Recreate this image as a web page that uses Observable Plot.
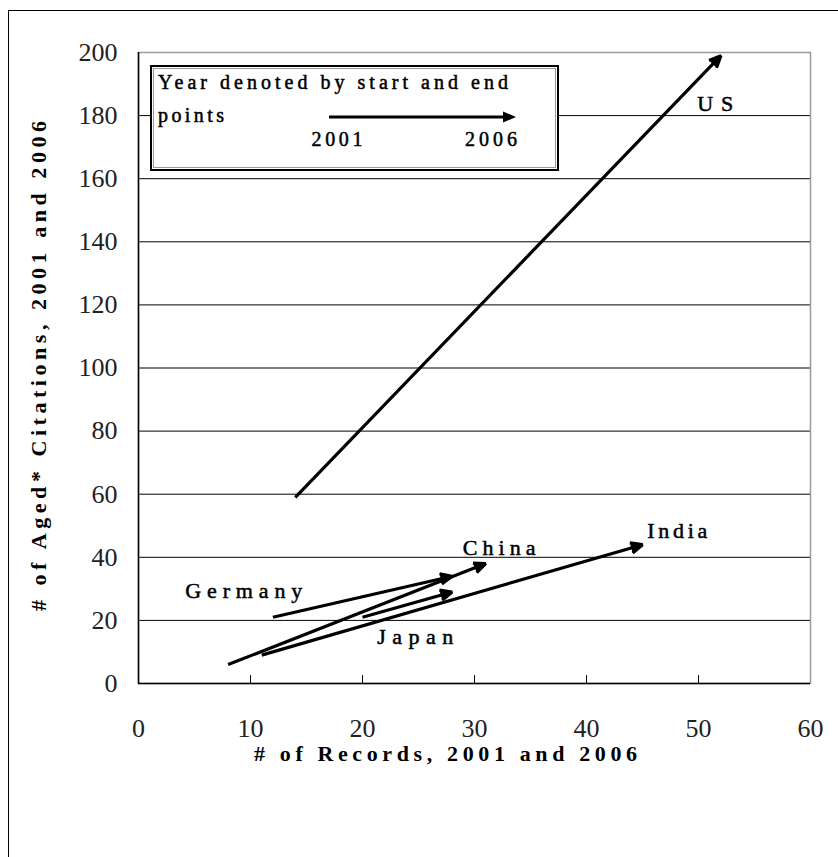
<!DOCTYPE html>
<html><head><meta charset="utf-8">
<script src="https://cdn.jsdelivr.net/npm/d3@7"></script>
<script src="https://cdn.jsdelivr.net/npm/@observablehq/plot@0.6"></script>
<style>
html,body{margin:0;padding:0;background:#fff;overflow:hidden;}
#wrap{position:relative;width:838px;height:857px;}
#border{position:absolute;left:8px;top:10px;width:900px;height:900px;border-left:1.5px solid #000;border-top:1.5px solid #000;pointer-events:none;}
#legend{position:absolute;left:0;top:0;pointer-events:none;}
</style></head><body>
<div id="wrap"><div id="chart"></div><div id="border"></div><svg id="legend" width="838" height="857"></svg></div>
<script>
// ---- data ----
const countries = ["US", "India", "China", "Germany", "Japan"];
const records2001 = [14, 11, 8, 12, 20];
const citations2001 = [59, 9, 6, 21, 21];
const records2006 = [52, 45, 31, 28, 28];
const citations2006 = [199, 44, 38, 34, 29];
// label anchor points (data units)
const labelX = [51.5, 48.1, 32.2, 9.4, 24.7];
const labelY = [183.8, 48.5, 43.1, 29.2, 14.7];

const xTicks = [0, 10, 20, 30, 40, 50, 60];
const yTicks = [0, 20, 40, 60, 80, 100, 120, 140, 160, 180, 200];
const xTitle = "# of Records, 2001 and 2006";
const yTitle = "# of Aged* Citations, 2001 and 2006";
const legendLines = ["Year denoted by start and end", "points"];
const legendYears = ["2001", "2006"];

const rows = countries.map((c, i) => ({
  country: c, x1: records2001[i], y1: citations2001[i],
  x2: records2006[i], y2: citations2006[i], lx: labelX[i], ly: labelY[i]
}));

const labelFont = "Liberation Serif";

const plot = Plot.plot({
  width: 838, height: 857,
  marginLeft: 138, marginRight: 28, marginTop: 52, marginBottom: 174,
  x: {domain: [0, 60], label: null},
  y: {domain: [0, 200], label: null},
  style: {fontFamily: "Liberation Serif", fontSize: "26px", fontWeight: "normal", color: "#000", background: "transparent"},
  marks: [
    Plot.ruleY(yTicks.filter(d => d > 0 && d < 200), {stroke: "#000", strokeWidth: 1}),
    Plot.frame({stroke: "#9a9a9a", strokeWidth: 1.5}),
    Plot.ruleX(xTicks.filter(d => d > 0 && d < 60), {y1: 0, y2: 2.5, stroke: "#000", strokeWidth: 1}),
    Plot.ruleY([0], {stroke: "#000", strokeWidth: 1.5}),
    Plot.ruleX([0], {stroke: "#000", strokeWidth: 1.5}),
    Plot.axisX({ticks: xTicks, tickSize: 0, tickPadding: 35, label: null, fontWeight: "normal", fill: "#222"}),
    Plot.axisY({ticks: yTicks, tickSize: 0, tickPadding: 21, label: null, fontWeight: "normal", fill: "#222"}),
    Plot.arrow(rows, {x1: "x1", y1: "y1", x2: "x2", y2: "y2", stroke: "#000", fill: "#000",
      strokeWidth: 3.2, headLength: 6, headAngle: 48, strokeLinecap: "butt", strokeLinejoin: "miter"}),
    Plot.text(rows, {x: "lx", y: "ly", text: "country", fontSize: 22, fontFamily: labelFont, fill: "#000", stroke: "#000", strokeWidth: 0.5}),
    Plot.text([xTitle], {text: d => d, frameAnchor: "bottom", lineAnchor: "middle", dy: 70, dx: -29, fontSize: 22, fontWeight: "bold", fontFamily: labelFont, fill: "#000"}),
    Plot.text([yTitle], {text: d => d, frameAnchor: "left", textAnchor: "middle", lineAnchor: "middle", dx: -100, dy: -2, rotate: -90, fontSize: 22, fontWeight: "bold", fontFamily: labelFont, fill: "#000"})
  ]
});
document.getElementById("chart").appendChild(plot);

// fill arrow heads
d3.select(plot).selectAll('g[aria-label="arrow"] path').attr("fill", "#000");

// stretch texts to the reference widths
const lengths = new Map([[xTitle, 383], [yTitle, 490], ["US", 36], ["India", 60], ["China", 73], ["Germany", 117], ["Japan", 76]]);
d3.select(plot).selectAll("text").each(function () {
  const t = this.textContent;
  if (lengths.has(t)) {
    this.setAttribute("textLength", lengths.get(t));
    this.setAttribute("lengthAdjust", "spacing");
  }
});

// legend box
const lg = d3.select("#legend");
lg.append("rect").attr("x", 151).attr("y", 66).attr("width", 407).attr("height", 104)
  .attr("fill", "#fff").attr("stroke", "#000").attr("stroke-width", 2);
lg.append("rect").attr("x", 153.5).attr("y", 68.5).attr("width", 402).attr("height", 99)
  .attr("fill", "none").attr("stroke", "#999").attr("stroke-width", 1);
const lt = lg.append("g").attr("font-family", labelFont).attr("font-size", 20).attr("fill", "#000").attr("stroke", "#000").attr("stroke-width", 0.5);
lt.append("text").attr("x", 158).attr("y", 89).attr("textLength", 350).attr("lengthAdjust", "spacing").text(legendLines[0]);
lt.append("text").attr("x", 158).attr("y", 122).attr("textLength", 66).attr("lengthAdjust", "spacing").text(legendLines[1]);
lt.append("text").attr("x", 337).attr("y", 146).attr("text-anchor", "middle").attr("textLength", 51).attr("lengthAdjust", "spacing").text(legendYears[0]);
lt.append("text").attr("x", 491).attr("y", 146).attr("text-anchor", "middle").attr("textLength", 52).attr("lengthAdjust", "spacing").text(legendYears[1]);
lg.append("line").attr("x1", 329).attr("y1", 117).attr("x2", 504).attr("y2", 117).attr("stroke", "#000").attr("stroke-width", 3);
lg.append("path").attr("d", "M503,111.5L516,117L503,122.5Z").attr("fill", "#000");
</script>
</body></html>
